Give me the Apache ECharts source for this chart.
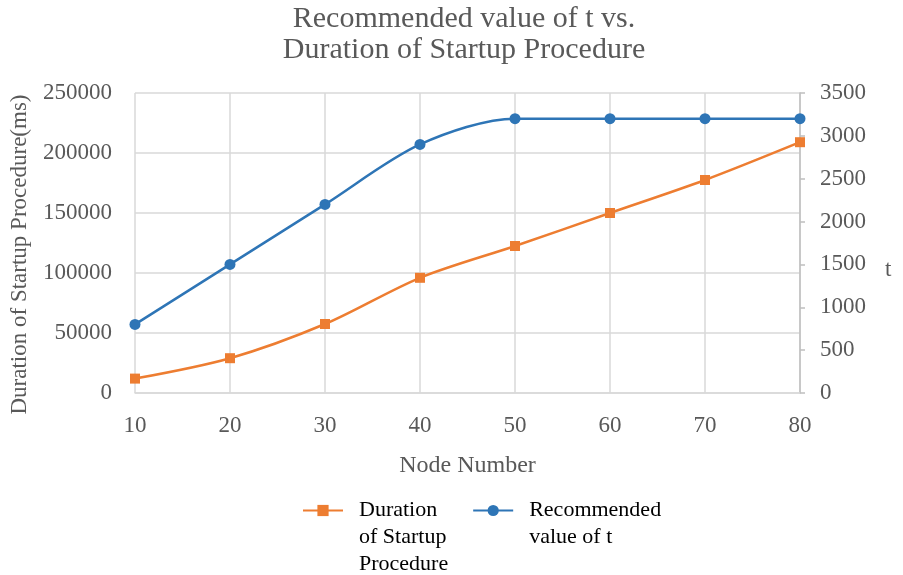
<!DOCTYPE html>
<html>
<head>
<meta charset="utf-8">
<script src="https://cdn.jsdelivr.net/npm/echarts@6/dist/echarts.min.js"></script>
<style>
    html, body { margin: 0; padding: 0; background: #fff; }
    #main { width: 903px; height: 575px; }
</style>
</head>
<body>
<div id="main"></div>
<script>
var nodeNumbers = ["10", "20", "30", "40", "50", "60", "70", "80"];
var durationMs = [12000, 29000, 57500, 96000, 122500, 150000, 177500, 209000];
var recommendedT = [800, 1500, 2200, 2900, 3200, 3200, 3200, 3200];

var serif = "Liberation Serif";
var grey = "#595959";

function plain(v) {
    return String(v);
}

// legend text: blank lines on top so the first line sits level with the icon
function legendText(name) {
    var lines = name.split("\n");
    var out = [];
    for (var i = 1; i < lines.length; i++) out.push("");
    lines.forEach(function (l) {
        out.push("  " + l);
    });
    return out.join("\n");
}

var chart = echarts.init(document.getElementById("main"));
chart.setOption({
    backgroundColor: "#fff",
    title: {
        text: "Recommended value of t vs.\nDuration of Startup Procedure",
        left: 459,
        top: -1,
        textAlign: "center",
        textStyle: {
            fontFamily: serif,
            fontSize: 30,
            fontWeight: "normal",
            color: grey,
            lineHeight: 31
        }
    },
    grid: {
        left: 134,
        right: 103,
        top: 93,
        bottom: 182
    },
    legend: {
        top: 438,
        left: 297,
        itemWidth: 40,
        itemHeight: 14,
        itemGap: 24,
        formatter: legendText,
        textStyle: {
            fontFamily: serif,
            fontSize: 22,
            color: "#000",
            lineHeight: 27
        },
        data: ["Duration\nof Startup\nProcedure", "Recommended\nvalue of t"]
    },
    xAxis: {
        type: "category",
        data: nodeNumbers,
        boundaryGap: false,
        name: "Node Number",
        nameLocation: "middle",
        nameGap: 61,
        nameTextStyle: { fontFamily: serif, fontSize: 24, color: grey },
        axisLine: { lineStyle: { color: "#d9d9d9", width: 1.5 } },
        axisTick: { show: false },
        axisLabel: { fontFamily: serif, fontSize: 23, color: grey, margin: 21 },
        splitLine: { show: true, lineStyle: { color: "#d9d9d9", width: 1.5 } }
    },
    yAxis: [
        {
            type: "value",
            min: 0,
            max: 250000,
            interval: 50000,
            name: "Duration of Startup Procedure(ms)    ",
            nameLocation: "middle",
            nameGap: 104,
            nameTextStyle: { fontFamily: serif, fontSize: 23, color: grey },
            axisLine: { show: false },
            axisTick: { show: false },
            axisLabel: { fontFamily: serif, fontSize: 23, color: grey, margin: 23, formatter: plain },
            splitLine: { show: true, lineStyle: { color: "#d9d9d9", width: 1.5 } }
        },
        {
            type: "value",
            min: 0,
            max: 3500,
            interval: 500,
            name: "\n\nt",
            nameLocation: "middle",
            nameGap: 85,
            nameRotate: 0,
            nameTextStyle: { fontFamily: serif, fontSize: 23, color: grey, lineHeight: 27 },
            axisLine: { show: true, lineStyle: { color: "#bfbfbf", width: 1.5 } },
            axisTick: { show: true, length: 5, lineStyle: { color: "#bfbfbf", width: 1.5 } },
            axisLabel: { fontFamily: serif, fontSize: 23, color: grey, margin: 20, formatter: plain },
            splitLine: { show: false }
        }
    ],
    series: [
        {
            name: "Duration\nof Startup\nProcedure",
            type: "line",
            yAxisIndex: 0,
            data: durationMs,
            smooth: 0.3,
            symbol: "rect",
            symbolSize: 10,
            itemStyle: { color: "#ED7D31" },
            lineStyle: { color: "#ED7D31", width: 2.5 }
        },
        {
            name: "Recommended\nvalue of t",
            type: "line",
            yAxisIndex: 1,
            data: recommendedT,
            smooth: 0.3,
            symbol: "circle",
            symbolSize: 11,
            itemStyle: { color: "#2E75B6" },
            lineStyle: { color: "#2E75B6", width: 2.5 }
        }
    ]
});
</script>
</body>
</html>
